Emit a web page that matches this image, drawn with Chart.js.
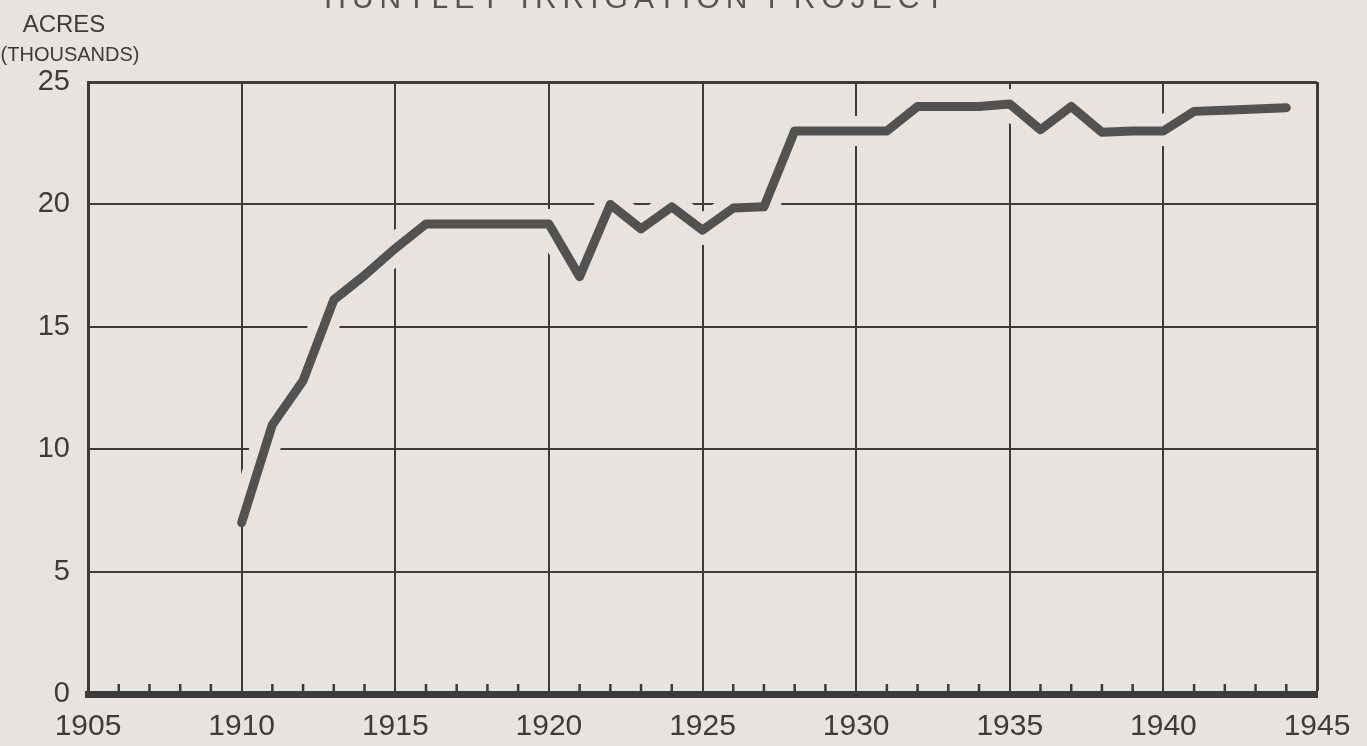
<!DOCTYPE html>
<html>
<head>
<meta charset="utf-8">
<script src="https://cdn.jsdelivr.net/npm/chart.js@4"></script>
<style>
  html, body { margin: 0; padding: 0; background: #e8e3df; }
  #wrap { position: relative; width: 1367px; height: 746px; }
</style>
</head>
<body>
<div id="wrap"><canvas id="acresChart"></canvas></div>
<script>
// Irrigated acres (thousands)
const years = [1910, 1911, 1912, 1913, 1914, 1915, 1916, 1917, 1918, 1919,
               1920, 1921, 1922, 1923, 1924, 1925, 1926, 1927, 1928, 1929,
               1930, 1931, 1932, 1933, 1934, 1935, 1936, 1937, 1938, 1939,
               1940, 1941, 1942, 1943, 1944];
const acres = [7.0, 11.0, 12.8, 16.1, 17.1, 18.2, 19.2, 19.2, 19.2, 19.2,
               19.2, 17.05, 20.0, 19.0, 19.9, 18.95, 19.85, 19.9, 23.0, 23.0,
               23.0, 23.0, 24.0, 24.0, 24.0, 24.1, 23.05, 24.0, 22.95, 23.0,
               23.0, 23.8, 23.85, 23.9, 23.95];

// axis ticks
const xTickYears = [1905, 1910, 1915, 1920, 1925, 1930, 1935, 1940, 1945];
const yTicks = [0, 5, 10, 15, 20, 25];

const titleText = 'HUNTLEY IRRIGATION PROJECT';
const unitText = ['ACRES', '(THOUSANDS)'];

const bg = '#e8e3df';
const ink = '#3c3c3c';
const font = 'Liberation Sans, Arial, sans-serif';

const points = years.map((y, i) => ({ x: y, y: acres[i] }));

// paper background + lettering + small year ticks
const paperPlugin = {
    id: 'paper',
    beforeDraw(chart) {
        const ctx = chart.ctx;
        ctx.save();
        ctx.fillStyle = bg;
        ctx.fillRect(0, 0, chart.width, chart.height);
        ctx.restore();
    },
    afterDraw(chart) {
        const ctx = chart.ctx;
        const xs = chart.scales.x;
        const area = chart.chartArea;
        ctx.save();
        // minor ticks for every year
        ctx.strokeStyle = ink;
        ctx.lineWidth = 2.5;
        for (let yr = xs.min + 1; yr < xs.max; yr++) {
            if (xTickYears.includes(yr)) continue;
            const px = xs.getPixelForValue(yr);
            ctx.beginPath();
            ctx.moveTo(px, area.bottom);
            ctx.lineTo(px, area.bottom - 10);
            ctx.stroke();
        }
        // title, cut off at the top
        ctx.fillStyle = '#555';
        ctx.font = '30px ' + font;
        ctx.textAlign = 'center';
        ctx.textBaseline = 'alphabetic';
        ctx.letterSpacing = '6px';
        ctx.fillText(titleText, 637, 8);
        ctx.letterSpacing = '0px';
        // unit label
        ctx.fillStyle = ink;
        ctx.font = '24px ' + font;
        ctx.fillText(unitText[0], 64, 32);
        ctx.font = '20px ' + font;
        ctx.fillText(unitText[1], 70, 61);
        ctx.restore();
    }
};

new Chart(document.getElementById('acresChart'), {
    type: 'line',
    data: {
        datasets: [{
            // line
            data: points,
            borderColor: '#525252',
            borderWidth: 9,
            borderJoinStyle: 'round',
            borderCapStyle: 'round',
            pointRadius: 0,
            tension: 0,
            order: 0
        }, {
            // paper-coloured gap where the line crosses the grid
            data: points,
            borderColor: bg,
            borderWidth: 30,
            borderJoinStyle: 'round',
            borderCapStyle: 'butt',
            pointRadius: 0,
            tension: 0,
            order: 1
        }]
    },
    plugins: [paperPlugin],
    options: {
        responsive: true,
        maintainAspectRatio: false,
        animation: false,
        layout: { padding: { left: 0, top: 82, right: 50, bottom: 0 } },
        scales: {
            x: {
                type: 'linear',
                min: 1905,
                max: 1945,
                afterBuildTicks: (scale) => { scale.ticks = xTickYears.map(v => ({ value: v })); },
                afterFit: (scale) => { scale.height = 52; },
                grid: {
                    color: ink,
                    lineWidth: (c) => (c.tick && c.tick.value === 1945 ? 3 : 2),
                    drawTicks: false
                },
                border: { color: ink, width: 7 },
                ticks: {
                    color: ink,
                    font: { family: font, size: 30 },
                    padding: 15,
                    maxRotation: 0,
                    autoSkip: false,
                    callback: (v) => String(v)
                }
            },
            y: {
                min: 0,
                max: 25,
                afterBuildTicks: (scale) => { scale.ticks = yTicks.map(v => ({ value: v })); },
                afterFit: (scale) => { scale.width = 88; },
                grid: {
                    color: ink,
                    lineWidth: (c) => (c.tick && c.tick.value === 25 ? 3 : 2),
                    drawTicks: false
                },
                border: { color: ink, width: 3 },
                ticks: {
                    color: ink,
                    font: { family: font, size: 29 },
                    padding: 18
                }
            }
        },
        plugins: {
            legend: { display: false },
            tooltip: { enabled: false }
        }
    }
});
</script>
</body>
</html>
